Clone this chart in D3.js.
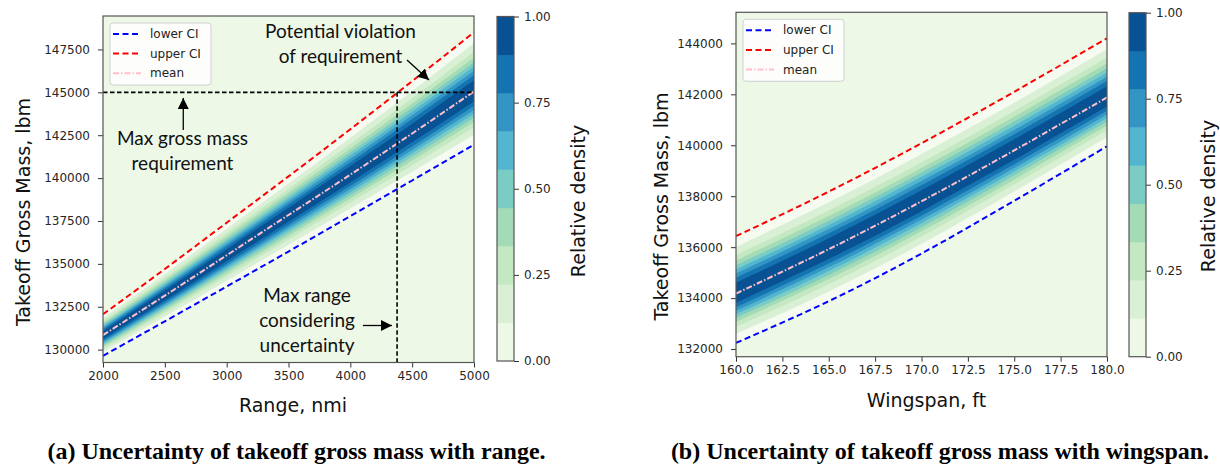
<!DOCTYPE html>
<html><head><meta charset="utf-8">
<script src="https://cdn.jsdelivr.net/npm/d3@7"></script>
<style>html,body{margin:0;padding:0;background:#fff}svg{display:block}</style>
</head><body>
<svg id="c" width="1220" height="465"></svg>
<script>
// ---------- data ----------
const rangeNmi   = [2000, 2500, 3000, 3500, 4000, 4500, 5000];
const rangeLower = [129640, 131650, 133680, 135720, 137780, 139860, 141950];
const rangeMean  = [130850, 133150, 135500, 137850, 140200, 142600, 145050];
const rangeUpper = [132060, 134700, 137400, 140100, 142850, 145650, 148500];
const rangeXTicks = [2000, 2500, 3000, 3500, 4000, 4500, 5000];
const rangeYTicks = [130000, 132500, 135000, 137500, 140000, 142500, 145000, 147500];

const wingspanFt = [160, 165, 170, 175, 180];
const wingLower  = [132240, 133880, 135750, 137820, 139960];
const wingMean   = [134180, 135920, 137800, 139800, 141880];
const wingUpper  = [136430, 138180, 140080, 142100, 144200];
const wingXTicks = [160, 162.5, 165, 167.5, 170, 172.5, 175, 177.5, 180];
const wingYTicks = [132000, 134000, 136000, 138000, 140000, 142000, 144000];

const densityLevels = [0, 0.1111, 0.2222, 0.3333, 0.4444, 0.5556, 0.6667, 0.7778, 0.8889, 1];
const colorbarTicks = [0, 0.25, 0.5, 0.75, 1];
const ciZ = 2.576;               // CI bounds expressed in standard deviations
const maxGrossMass = 145000;     // requirement line
const maxRange = 4378;           // max range considering uncertainty

const legendLabels = ["lower CI", "upper CI", "mean"];
const captionA = "(a) Uncertainty of takeoff gross mass with range.";
const captionB = "(b) Uncertainty of takeoff gross mass with wingspan.";

// annotation texts (anchored in data units)
const annotations = [
  {lines: ["Potential violation", "of requirement"], x: 3920, y: 148535,
   arrow: [[4458, 146885], [4636, 145720]]},
  {lines: ["Max gross mass", "requirement"], x: 2643, y: 142320,
   arrow: [[2649, 142805], [2649, 144670]]},
  {lines: ["Max range", "considering", "uncertainty"], x: 3650, y: 133185,
   arrow: [[4102, 131407], [4337, 131407]]}
];

// ---------- styling ----------
const gnbu = d3.piecewise(d3.interpolateRgb,
  ["#f7fcf0","#e0f3db","#ccebc5","#a8ddb5","#7bccc4","#4eb3d3","#2b8cbe","#0868ac","#084081"]);
const bandColors = d3.range(densityLevels.length - 1)
  .map(i => gnbu((densityLevels[i] + densityLevels[i + 1]) / 2));
const TICK_FONT = "DejaVu Sans, sans-serif";
const svg = d3.select("#c");
const defs = svg.append("defs");
defs.append("marker").attr("id", "ah").attr("viewBox", "0 0 10 10")
  .attr("refX", 10).attr("refY", 5).attr("markerWidth", 11).attr("markerHeight", 11)
  .attr("markerUnits", "userSpaceOnUse").attr("orient", "auto")
  .append("path").attr("d", "M0,0 L10,5 L0,10 z").attr("fill", "#000");

function styleAxis(g) {
  g.select(".domain").remove();
  g.selectAll(".tick line").attr("stroke", "#333").attr("stroke-width", 1);
  g.selectAll(".tick text").attr("fill", "#262626")
    .style("font-family", TICK_FONT).style("font-size", "12px");
}

function panel(o) {
  const x = d3.scaleLinear().domain(o.xDomain).range([o.left, o.right]);
  const y = d3.scaleLinear().domain(o.yDomain).range([o.bottom, o.top]);
  const g = svg.append("g");
  const clipId = o.id + "-clip";
  defs.append("clipPath").attr("id", clipId).append("rect")
    .attr("x", o.left).attr("y", o.top)
    .attr("width", o.right - o.left).attr("height", o.bottom - o.top);
  const inner = g.append("g").attr("clip-path", `url(#${clipId})`);
  inner.append("rect").attr("x", o.left).attr("y", o.top)
    .attr("width", o.right - o.left).attr("height", o.bottom - o.top)
    .attr("fill", bandColors[0]);

  const rows = o.xs.map((v, i) => ({x: v, lo: o.lower[i], m: o.mean[i], hi: o.upper[i]}));
  // region inside CI
  inner.append("path").datum(rows)
    .attr("d", d3.area().x(d => x(d.x)).y0(d => y(d.lo)).y1(d => y(d.hi)).curve(d3.curveNatural))
    .attr("fill", "#f6fbf2");
  for (let k = 1; k < densityLevels.length - 1; k++) {
    const f = Math.sqrt(-2 * Math.log(densityLevels[k])) / ciZ;
    inner.append("path").datum(rows)
      .attr("d", d3.area().x(d => x(d.x))
        .y0(d => y(d.m - f * (d.m - d.lo)))
        .y1(d => y(d.m + f * (d.hi - d.m))).curve(d3.curveNatural))
      .attr("fill", bandColors[k]);
  }
  const mk = acc => d3.line().x(d => x(d.x)).y(d => y(acc(d))).curve(d3.curveNatural);
  inner.append("path").datum(rows).attr("d", mk(d => d.lo))
    .attr("fill", "none").attr("stroke", "#0000ff").attr("stroke-width", 2).attr("stroke-dasharray", "6,3.5");
  inner.append("path").datum(rows).attr("d", mk(d => d.hi))
    .attr("fill", "none").attr("stroke", "#ff0000").attr("stroke-width", 2).attr("stroke-dasharray", "6,3.5");
  inner.append("path").datum(rows).attr("d", mk(d => d.m))
    .attr("fill", "none").attr("stroke", "#ffc0cb").attr("stroke-width", 2).attr("stroke-dasharray", "6,2,1.5,2");

  if (o.extras) o.extras(g, inner, x, y);

  // axes
  g.append("g").attr("transform", `translate(0,${o.bottom})`)
    .call(d3.axisBottom(x).tickValues(o.xTicks).tickSize(5).tickPadding(4).tickFormat(o.xFmt))
    .call(styleAxis);
  g.append("g").attr("transform", `translate(${o.left},0)`)
    .call(d3.axisLeft(y).tickValues(o.yTicks).tickSize(5).tickPadding(8).tickFormat(d3.format("d")))
    .call(styleAxis);
  g.append("rect").attr("x", o.left).attr("y", o.top)
    .attr("width", o.right - o.left).attr("height", o.bottom - o.top)
    .attr("fill", "none").attr("stroke", "#555").attr("stroke-width", 1.2);

  // legend
  const lg = g.append("g").attr("transform", `translate(${o.left + 7},${o.top + 7})`);
  lg.append("rect").attr("width", 101).attr("height", 62).attr("rx", 3)
    .attr("fill", "#fff").attr("fill-opacity", 0.85).attr("stroke", "#d0d0d0");
  const legStyles = [
    {c: "#0000ff", d: "6,3.5"}, {c: "#ff0000", d: "6,3.5"}, {c: "#ffc0cb", d: "6,2,1.5,2"}];
  legendLabels.forEach((t, i) => {
    const yy = 11 + i * 19.6;
    lg.append("line").attr("x1", 3).attr("x2", 31).attr("y1", yy).attr("y2", yy)
      .attr("stroke", legStyles[i].c).attr("stroke-width", 2).attr("stroke-dasharray", legStyles[i].d);
    lg.append("text").attr("x", 40).attr("y", yy).attr("dy", "0.35em").text(t)
      .attr("fill", "#222").style("font-family", TICK_FONT).style("font-size", "12px");
  });

  // axis labels
  g.append("text").attr("x", o.xLabelPos[0]).attr("y", o.xLabelPos[1]).attr("text-anchor", "middle")
    .style("font-family", TICK_FONT).style("font-size", "19px").attr("fill", "#111").text(o.xLabel);
  g.append("text").attr("transform", `translate(${o.yLabelPos[0]},${o.yLabelPos[1]}) rotate(-90)`)
    .attr("text-anchor", "middle").attr("dy", "0.35em")
    .style("font-family", TICK_FONT).style("font-size", "19px").attr("fill", "#111").text("Takeoff Gross Mass, lbm");

  // colorbar
  const cb = o.cbar;
  const cy = d3.scaleLinear().domain([0, 1]).range([cb.bottom, cb.top]);
  const cg = svg.append("g");
  bandColors.forEach((c, i) => {
    cg.append("rect").attr("x", cb.left).attr("width", cb.right - cb.left)
      .attr("y", cy(densityLevels[i + 1])).attr("height", cy(densityLevels[i]) - cy(densityLevels[i + 1]) + 0.3)
      .attr("fill", c);
  });
  cg.append("g").attr("transform", `translate(${cb.right},0)`)
    .call(d3.axisRight(cy).tickValues(colorbarTicks).tickSize(5).tickPadding(5).tickFormat(d3.format(".2f")))
    .call(styleAxis);
  cg.append("rect").attr("x", cb.left).attr("y", cb.top)
    .attr("width", cb.right - cb.left).attr("height", cb.bottom - cb.top)
    .attr("fill", "none").attr("stroke", "#555").attr("stroke-width", 1.2);
  cg.append("text").attr("transform", `translate(${cb.labelPos[0]},${cb.labelPos[1]}) rotate(-90)`)
    .attr("text-anchor", "middle").attr("dy", "0.35em")
    .style("font-family", TICK_FONT).style("font-size", "19px").attr("fill", "#111").text("Relative density");
}

// ---------- left panel ----------
panel({
  id: "a", left: 103, right: 474, top: 16, bottom: 362.5,
  xDomain: [2000, 5000], yDomain: [129250, 149450],
  xs: rangeNmi, lower: rangeLower, mean: rangeMean, upper: rangeUpper,
  xTicks: rangeXTicks, yTicks: rangeYTicks, xFmt: d3.format("d"),
  xLabel: "Range, nmi", xLabelPos: [293, 411.5], yLabelPos: [23, 212],
  cbar: {left: 497, right: 514, top: 16.5, bottom: 361, labelPos: [578, 201]},
  extras: (g, inner, x, y) => {
    inner.append("line").attr("x1", x(2000)).attr("x2", x(5000))
      .attr("y1", y(maxGrossMass)).attr("y2", y(maxGrossMass))
      .attr("stroke", "#000").attr("stroke-width", 1.6).attr("stroke-dasharray", "4.5,2.5");
    inner.append("line").attr("x1", x(maxRange)).attr("x2", x(maxRange))
      .attr("y1", y(maxGrossMass)).attr("y2", y(129250))
      .attr("stroke", "#000").attr("stroke-width", 1.6).attr("stroke-dasharray", "4.5,2.5");
    annotations.forEach(a => {
      a.lines.forEach((t, i) => {
        g.append("text").attr("x", x(a.x)).attr("y", y(a.y) + i * 25).attr("dy", "0.35em")
          .attr("text-anchor", "middle").style("font-family", "Lato, sans-serif")
          .style("font-size", "19px").attr("fill", "#111").text(t);
      });
      g.append("line").attr("x1", x(a.arrow[0][0])).attr("y1", y(a.arrow[0][1]))
        .attr("x2", x(a.arrow[1][0])).attr("y2", y(a.arrow[1][1]))
        .attr("stroke", "#000").attr("stroke-width", 1.3).attr("marker-end", "url(#ah)");
    });
  }
});

// ---------- right panel ----------
panel({
  id: "b", left: 736, right: 1107, top: 12.3, bottom: 356.7,
  xDomain: [160, 180], yDomain: [131700, 145220],
  xs: wingspanFt, lower: wingLower, mean: wingMean, upper: wingUpper,
  xTicks: wingXTicks, yTicks: wingYTicks, xFmt: d3.format(".1f"),
  xLabel: "Wingspan, ft", xLabelPos: [926.5, 406.5], yLabelPos: [661, 206.5],
  cbar: {left: 1129, right: 1146, top: 12.7, bottom: 356.7, labelPos: [1208, 196]}
});

// ---------- captions ----------
[[captionA, 296.5], [captionB, 940]].forEach(([t, cx]) => {
  svg.append("text").attr("x", cx).attr("y", 459).attr("text-anchor", "middle")
    .style("font-family", "Liberation Serif, Times New Roman, serif").style("font-weight", "bold")
    .style("font-size", "24px").attr("fill", "#000").text(t);
});
</script>
</body></html>
